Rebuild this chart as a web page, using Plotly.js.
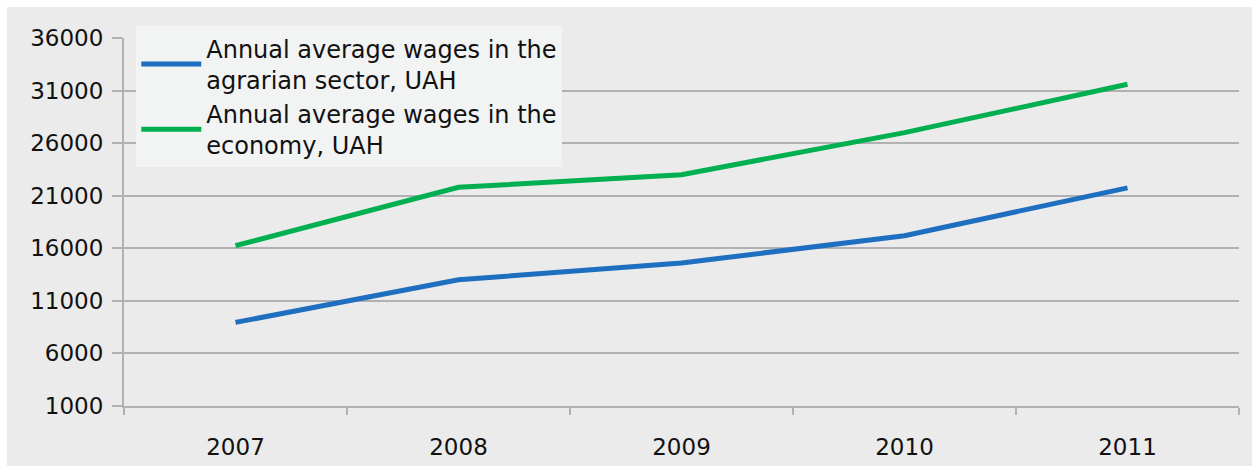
<!DOCTYPE html>
<html>
<head>
<meta charset="utf-8">
<script src="https://cdn.plot.ly/plotly-3.0.1.min.js"></script>
<style>
html,body{margin:0;padding:0;background:#ffffff;}
#chart{position:absolute;left:7px;top:7px;width:1245px;height:459px;}
</style>
</head>
<body>
<div id="chart"></div>
<script>
const years = ['2007', '2008', '2009', '2010', '2011'];
const agrarianWages = [8950, 13000, 14600, 17200, 21750];
const economyWages = [16250, 21800, 23000, 27000, 31600];
const seriesNames = [
  'Annual average wages in the<br>agrarian sector, UAH',
  'Annual average wages in the<br>economy, UAH'
];
const yTicks = [1000, 6000, 11000, 16000, 21000, 26000, 31000, 36000];

const font = 'DejaVu Sans, sans-serif';
const gridColor = '#b1b1b4';

const data = [
  {x: years, y: agrarianWages, name: seriesNames[0], type: 'scatter', mode: 'lines',
   line: {color: '#1f6fc1', width: 5}},
  {x: years, y: economyWages, name: seriesNames[1], type: 'scatter', mode: 'lines',
   line: {color: '#00b050', width: 5}}
];

const layout = {
  width: 1245, height: 459,
  paper_bgcolor: '#ebebeb', plot_bgcolor: '#ebebeb',
  margin: {l: 117, r: 13, t: 31, b: 60},
  font: {family: font, size: 23, color: '#111111'},
  showlegend: true,
  legend: {
    x: 0.011, y: 1.032, xanchor: 'left', yanchor: 'top',
    bgcolor: '#f2f3f3', borderwidth: 0,
    font: {family: font, size: 24, color: '#111111'},
    tracegroupgap: 0, itemwidth: 60
  },
  xaxis: {
    type: 'category', range: [-0.5, 4.5],
    tickson: 'boundaries', ticks: 'outside', ticklen: 7, tickwidth: 2, tickcolor: gridColor,
    showline: true, linecolor: gridColor, linewidth: 2,
    showgrid: false, zeroline: false, ticklabelstandoff: 19,
    tickfont: {family: font, size: 23, color: '#111111'}
  },
  yaxis: {
    range: [1000, 36000], tickmode: 'array', tickvals: yTicks, ticktext: yTicks.map(String),
    ticks: 'outside', ticklen: 10, tickwidth: 2, tickcolor: gridColor,
    showline: true, linecolor: gridColor, linewidth: 2,
    showgrid: true, gridcolor: gridColor, gridwidth: 2, zeroline: false, ticklabelstandoff: 4,
    tickfont: {family: font, size: 23, color: '#111111'}
  }
};

Plotly.newPlot('chart', data, layout, {displayModeBar: false, staticPlot: true});
</script>
</body>
</html>
